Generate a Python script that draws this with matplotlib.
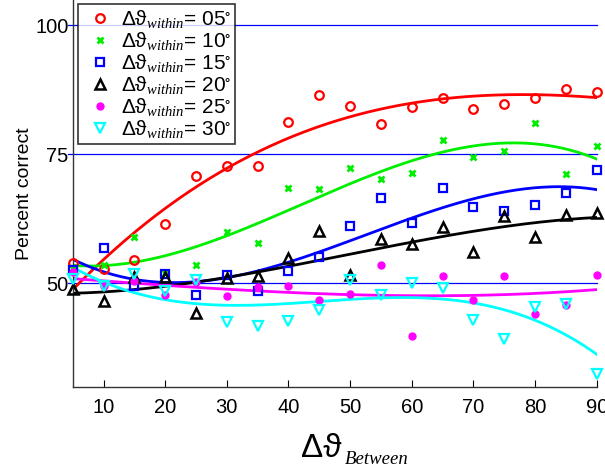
import numpy as np
import matplotlib
matplotlib.use("Agg")
import matplotlib.pyplot as plt

plt.rcParams['font.family'] = ['Liberation Sans', 'DejaVu Sans']
plt.rcParams['mathtext.fontset'] = 'custom'
plt.rcParams['mathtext.rm'] = 'Liberation Sans'
plt.rcParams['mathtext.it'] = 'Liberation Serif:italic'
plt.rcParams['mathtext.fallback'] = 'stixsans'

x = [5, 10, 15, 20, 25, 30, 35, 40, 45, 50, 55, 60, 65, 70, 75, 80, 85, 90]
within_05 = [53.9, 52.7, 54.5, 61.4, 70.8, 72.7, 72.7, 81.3, 86.4, 84.4, 80.8, 84.2, 85.8, 83.8, 84.7, 85.8, 87.7, 87.1]
within_10 = [53.0, 53.6, 58.9, 52.0, 53.6, 59.9, 57.8, 68.5, 68.3, 72.4, 70.2, 71.4, 77.7, 74.4, 75.6, 81.1, 71.1, 76.6]
within_15 = [52.5, 56.9, 49.5, 51.9, 47.7, 51.6, 48.6, 52.3, 55.2, 61.1, 66.6, 61.7, 68.4, 64.7, 64.1, 65.1, 67.5, 71.9]
within_20 = [49.0, 46.6, 51.2, 51.2, 44.2, 51.0, 51.5, 54.9, 60.1, 51.7, 58.5, 57.7, 61.0, 56.1, 63.0, 58.9, 63.2, 63.7]
within_25 = [52.2, 49.4, 50.5, 47.7, 50.2, 47.5, 49.3, 49.4, 46.7, 48.0, 53.6, 39.8, 51.4, 46.7, 51.4, 44.1, 45.8, 51.7]
within_30 = [50.9, 49.4, 51.9, 48.6, 50.6, 42.5, 41.7, 42.8, 44.9, 50.7, 47.7, 50.1, 49.2, 43.0, 39.3, 45.5, 46.0, 32.4]
labels = ['05', '10', '15', '20', '25', '30']
ref_levels = [50, 75, 100]

series = [within_05, within_10, within_15, within_20, within_25, within_30]
colors = ['#ff0000', '#00ee00', '#0000ff', '#000000', '#ff00ff', '#00ffff']
markers = ['o', 'x', 's', '^', 'o', 'v']
msizes = [6.2, 3.8, 5.2, 7.0, 5.0, 7.0]
mews = [1.6, 2.0, 1.6, 1.8, 1.0, 1.6]
fills = [False, True, False, False, True, False]

W, H = 605, 467
fig = plt.figure(figsize=(W / 100, H / 100), dpi=100)
ax = fig.add_axes([72.7 / W, 1 - 386.7 / H, 524 / W, 386.7 / H])

for lv in ref_levels:
    ax.plot([4.2, 90], [lv, lv], color='#0000ff', lw=0.9, clip_on=False, zorder=1)

xs = np.linspace(5, 90, 300)
handles = []
for ys, c, m, ms, mw, f, lab in zip(series, colors, markers, msizes, mews, fills, labels):
    p = np.polyfit(x, ys, 3)
    ax.plot(xs, np.polyval(p, xs), color=c, lw=2, zorder=2)
    h, = ax.plot(x, ys, linestyle='none', marker=m, markersize=ms, markeredgewidth=mw,
                 markeredgecolor=c, markerfacecolor=(c if f else 'none'), zorder=3,
                 clip_on=False,
                 label=r'$\mathrm{\Delta\vartheta}_{within}$= ' + lab + r'$^{\circ}$')
    handles.append(h)

ax.set_xlim(5, 90)
ax.set_ylim(30, 104.85)
ax.set_xticks([10, 20, 30, 40, 50, 60, 70, 80, 90])
ax.set_yticks([50, 75, 100])
ax.tick_params(axis='x', direction='in', length=5, labelsize=14.5, pad=8)
ax.tick_params(axis='y', length=0, labelsize=14.5, pad=3)
ax.spines['top'].set_visible(False)
ax.spines['right'].set_visible(False)
for s in ['left', 'bottom']:
    ax.spines[s].set_color('#333333')
    ax.spines[s].set_linewidth(1.0)

ax.set_ylabel('Percent correct', fontsize=14)
ax.yaxis.set_label_coords(-0.075, 0.5)

# x label: large Greek part with small italic serif subscript
fig.text(301 / W, 1 - 457 / H, '\u0394\u03d1', fontsize=24,
         family=['Liberation Sans', 'DejaVu Sans'], va='baseline', ha='left')
fig.text(345 / W, 1 - 464 / H, 'Between', fontsize=13.5,
         family='Liberation Serif', style='italic', va='baseline', ha='left')

leg = ax.legend(handles=handles, loc='upper left', bbox_to_anchor=(0.01, 0.99),
                fontsize=15, frameon=True, fancybox=False, edgecolor='black',
                labelspacing=0.0, handlelength=1.7, handletextpad=0.15,
                borderpad=0.2, borderaxespad=0)
leg.get_frame().set_linewidth(1.2)

fig.savefig('out.png', dpi=100)
